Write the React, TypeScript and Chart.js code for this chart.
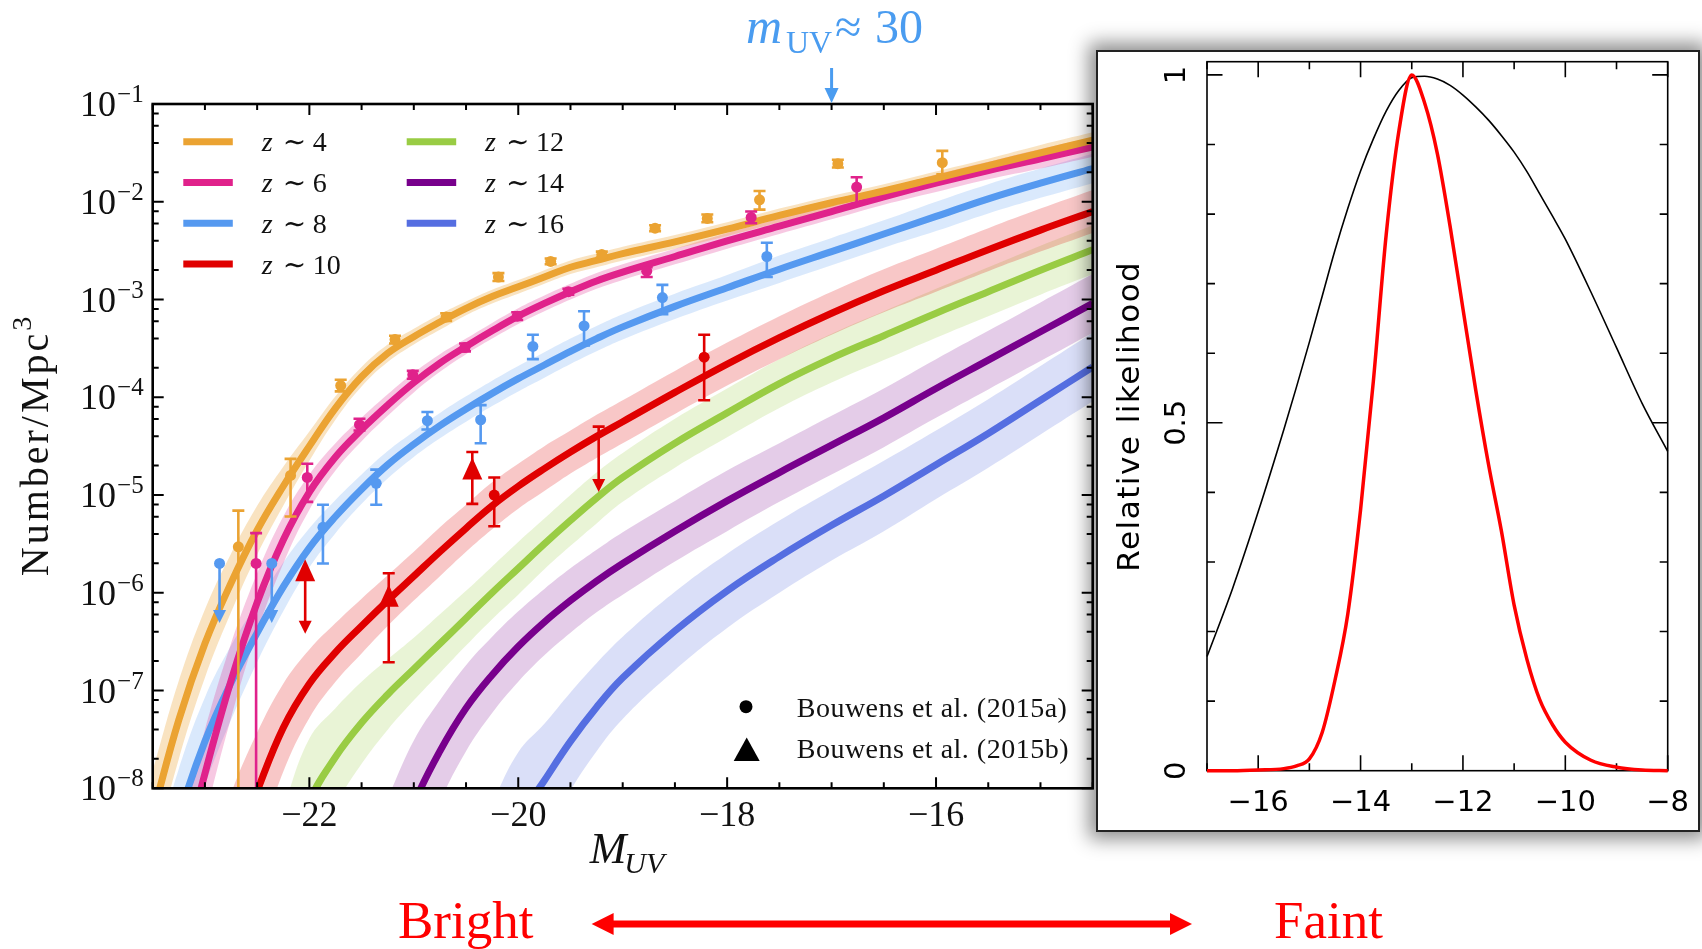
import React, { useEffect, useRef } from 'react';
import { Chart, registerables } from 'chart.js';

Chart.register(...registerables);

/* ===================== LEFT PANEL: UV luminosity functions ===================== */

const magGrid = [-23.5, -23.25, -23, -22.75, -22.5, -22.25, -22, -21.75, -21.5, -21.25, -21, -20.75, -20.5, -20.25, -20, -19.75, -19.5, -19.25, -19, -18.5, -18, -17.5, -17, -16.5, -16, -15.5, -15, -14.5];

// model curves: log10(Number / Mpc^3) at each grid point (null = not drawn)
const lfZ4 = [-8.27, -7.3, -6.52, -5.9, -5.36, -4.91, -4.5, -4.11, -3.79, -3.55, -3.38, -3.23, -3.09, -2.97, -2.87, -2.77, -2.67, -2.6, -2.53, -2.41, -2.28, -2.14, -2.01, -1.89, -1.76, -1.63, -1.5, -1.37];
const lfZ6 = [-10.0, -8.9, -7.85, -6.9, -6.1, -5.46, -4.97, -4.61, -4.33, -4.08, -3.85, -3.65, -3.48, -3.32, -3.17, -3.04, -2.92, -2.81, -2.72, -2.56, -2.4, -2.25, -2.1, -1.95, -1.81, -1.68, -1.56, -1.44];
const lfZ8 = [-9.3, -8.3, -7.52, -6.92, -6.41, -5.94, -5.54, -5.22, -4.94, -4.69, -4.48, -4.29, -4.12, -3.96, -3.81, -3.67, -3.53, -3.4, -3.28, -3.07, -2.88, -2.69, -2.51, -2.33, -2.15, -1.97, -1.81, -1.66];
const lfZ10 = [null, null, -9.6, -8.75, -8.03, -7.38, -6.93, -6.61, -6.34, -6.08, -5.83, -5.58, -5.34, -5.11, -4.91, -4.73, -4.56, -4.4, -4.25, -3.95, -3.66, -3.39, -3.14, -2.91, -2.7, -2.49, -2.29, -2.1];
const lfZ12 = [null, null, null, null, null, -9.0, -8.14, -7.68, -7.33, -7.04, -6.78, -6.52, -6.26, -6.0, -5.75, -5.5, -5.26, -5.03, -4.82, -4.47, -4.16, -3.86, -3.6, -3.37, -3.14, -2.92, -2.7, -2.49];
const lfZ14 = [null, null, null, null, null, null, null, null, null, -8.9, -8.16, -7.62, -7.18, -6.84, -6.55, -6.3, -6.08, -5.88, -5.7, -5.37, -5.06, -4.77, -4.49, -4.21, -3.91, -3.62, -3.33, -3.04];
const lfZ16 = [null, null, null, null, null, null, null, null, null, null, null, null, null, -9.0, -8.33, -7.92, -7.52, -7.17, -6.87, -6.39, -5.98, -5.63, -5.31, -5.01, -4.69, -4.37, -4.03, -3.69];

// half-width of the shaded uncertainty band (dex) at each grid point
const bandZ4 = [0.45, 0.4, 0.35, 0.3, 0.25, 0.2, 0.15, 0.12, 0.1, 0.09, 0.08, 0.08, 0.07, 0.07, 0.07, 0.07, 0.07, 0.07, 0.07, 0.07, 0.07, 0.07, 0.07, 0.07, 0.07, 0.07, 0.08, 0.08];
const bandZ6 = [0.55, 0.5, 0.45, 0.38, 0.3, 0.24, 0.18, 0.14, 0.12, 0.11, 0.1, 0.09, 0.08, 0.08, 0.08, 0.08, 0.08, 0.08, 0.08, 0.08, 0.08, 0.08, 0.08, 0.08, 0.09, 0.09, 0.1, 0.1];
const bandZ8 = [0.55, 0.5, 0.45, 0.38, 0.3, 0.25, 0.2, 0.17, 0.15, 0.14, 0.13, 0.13, 0.13, 0.13, 0.13, 0.13, 0.13, 0.13, 0.13, 0.13, 0.13, 0.14, 0.14, 0.14, 0.15, 0.15, 0.15, 0.15];
const bandZ10 = [null, null, 0.8, 0.7, 0.6, 0.45, 0.35, 0.3, 0.28, 0.26, 0.25, 0.25, 0.24, 0.24, 0.23, 0.23, 0.22, 0.22, 0.22, 0.22, 0.22, 0.22, 0.22, 0.22, 0.22, 0.22, 0.22, 0.22];
const bandZ12 = [null, null, null, null, null, 0.8, 0.65, 0.5, 0.42, 0.36, 0.32, 0.3, 0.28, 0.27, 0.27, 0.26, 0.26, 0.26, 0.25, 0.25, 0.25, 0.25, 0.25, 0.25, 0.25, 0.25, 0.25, 0.25];
const bandZ14 = [null, null, null, null, null, null, null, null, null, 0.8, 0.65, 0.52, 0.44, 0.39, 0.36, 0.34, 0.33, 0.32, 0.32, 0.31, 0.31, 0.3, 0.3, 0.3, 0.3, 0.3, 0.3, 0.3];
const bandZ16 = [null, null, null, null, null, null, null, null, null, null, null, null, null, 0.85, 0.7, 0.58, 0.5, 0.45, 0.42, 0.4, 0.38, 0.37, 0.36, 0.36, 0.35, 0.35, 0.35, 0.35];

// Bouwens et al. (2015a) points: [M_UV, log10 phi, +err, -err]  (err 4 = runs off the plot)
const obsZ4 = [
  [-22.68, -5.53, 0.37, 4], [-22.18, -4.8, 0.17, 0.42], [-21.7, -3.88, 0.06, 0.06], [-21.18, -3.41, 0.04, 0.04],
  [-20.69, -3.18, 0.04, 0.04], [-20.19, -2.77, 0.04, 0.04], [-19.69, -2.61, 0.03, 0.03], [-19.2, -2.54, 0.03, 0.03],
  [-18.69, -2.27, 0.03, 0.03], [-18.19, -2.17, 0.04, 0.04], [-17.69, -1.98, 0.09, 0.1], [-16.94, -1.61, 0.04, 0.04],
  [-15.94, -1.6, 0.12, 0.12],
];
const obsZ6 = [
  [-22.51, -5.7, 0.31, 4], [-22.02, -4.82, 0.14, 0.25], [-21.52, -4.28, 0.06, 0.06], [-21.01, -3.77, 0.04, 0.04],
  [-20.51, -3.49, 0.04, 0.04], [-20.01, -3.17, 0.04, 0.04], [-19.52, -2.92, 0.03, 0.03], [-18.77, -2.71, 0.04, 0.06],
  [-17.77, -2.16, 0.06, 0.06], [-16.76, -1.85, 0.1, 0.17],
];
const obsZ8 = [
  [-21.87, -5.33, 0.23, 0.37], [-21.36, -4.88, 0.14, 0.22], [-20.87, -4.24, 0.09, 0.09], [-20.36, -4.23, 0.15, 0.24],
  [-19.86, -3.48, 0.12, 0.13], [-19.37, -3.27, 0.15, 0.2], [-18.62, -2.98, 0.13, 0.17], [-17.62, -2.56, 0.14, 0.21],
];
const obsZ10 = [[-20.23, -5.0, 0.18, 0.32], [-18.22, -3.59, 0.23, 0.44]];
// upper limits: [M_UV, log10 phi, arrow tip]
const limZ8 = [[-22.86, -5.7, -6.31], [-22.36, -5.7, -6.31]];
const limZ10 = [[-19.23, -4.3, -4.97]];
// Bouwens et al. (2015b) triangles
const triZ10 = [[-21.24, -6.06, 0.26, 0.65], [-20.44, -4.76, 0.2, 0.33]];
const triLimZ10 = [[-22.04, -5.8, -6.42]];

const lfTicksX = [-22, -20, -18, -16];
const lfDecades = [-8, -7, -6, -5, -4, -3, -2, -1];
const legendZ = ['4', '6', '8', '10', '12', '14', '16'];
const refLabels = ['Bouwens et al. (2015a)', 'Bouwens et al. (2015b)'];

const colZ4 = '#eba332';
const colZ6 = '#e0228b';
const colZ8 = '#5599f0';
const colZ10 = '#e00000';
const colZ12 = '#99cc44';
const colZ14 = '#78008c';
const colZ16 = '#556ee1';

/* ===================== RIGHT PANEL: relative likelihood ===================== */
const likeMag = [-17, -16.5, -16, -15.5, -15.25, -15, -14.75, -14.5, -14.25, -14, -13.75, -13.5, -13.25, -13, -12.75, -12.5, -12.25, -12, -11.75, -11.5, -11.25, -11, -10.75, -10.5, -10.25, -10, -9.5, -9, -8.5, -8];
const likeBroad = [0.164, 0.262, 0.372, 0.49, 0.552, 0.616, 0.682, 0.748, 0.808, 0.862, 0.908, 0.948, 0.978, 0.996, 0.998, 0.994, 0.985, 0.971, 0.954, 0.935, 0.913, 0.889, 0.861, 0.829, 0.797, 0.764, 0.688, 0.608, 0.528, 0.459];
const likeNarrow = [0, 0, 0.001, 0.003, 0.007, 0.017, 0.055, 0.13, 0.225, 0.375, 0.56, 0.77, 0.92, 1.0, 0.96, 0.887, 0.782, 0.664, 0.547, 0.44, 0.345, 0.238, 0.16, 0.102, 0.066, 0.041, 0.015, 0.005, 0.001, 0];
const likeTicksX = [-17, -16, -15, -14, -13, -12, -11, -10, -9, -8];
const likeLabelsX = [-16, -14, -12, -10, -8];
const likeTicksY = [0, 0.1, 0.2, 0.3, 0.4, 0.5, 0.6, 0.7, 0.8, 0.9, 1];
const likeLabelsY = [0, 0.5, 1];

const SERIF = "'Liberation Serif', 'DejaVu Serif', serif";
const SANS = "'DejaVu Sans', 'Liberation Sans', sans-serif";

function rgba(hex: string, a: number) {
  const n = parseInt(hex.slice(1), 16);
  return `rgba(${(n >> 16) & 255},${(n >> 8) & 255},${n & 255},${a})`;
}
const minus = (v: number) => (v < 0 ? '\u2212' + Math.abs(v) : String(v));

const lfSeries = [
  { z: legendZ[0], color: colZ4, lf: lfZ4, band: bandZ4, alpha: 0.3 },
  { z: legendZ[1], color: colZ6, lf: lfZ6, band: bandZ6, alpha: 0.25 },
  { z: legendZ[2], color: colZ8, lf: lfZ8, band: bandZ8, alpha: 0.22 },
  { z: legendZ[3], color: colZ10, lf: lfZ10, band: bandZ10, alpha: 0.22 },
  { z: legendZ[4], color: colZ12, lf: lfZ12, band: bandZ12, alpha: 0.22 },
  { z: legendZ[5], color: colZ14, lf: lfZ14, band: bandZ14, alpha: 0.2 },
  { z: legendZ[6], color: colZ16, lf: lfZ16, band: bandZ16, alpha: 0.22 },
];

function curve(vals: (number | null)[], band: (number | null)[] | null, sign: number) {
  const out: { x: number; y: number }[] = [];
  magGrid.forEach((m, i) => {
    const v = vals[i];
    if (v == null) return;
    const off = band ? (band[i] ?? 0) * sign : 0;
    out.push({ x: m, y: Math.pow(10, v + off) });
  });
  return out;
}

const leftPlugin = {
  id: 'lfDecor',
  afterDatasetsDraw(chart: any) {
    const ctx: CanvasRenderingContext2D = chart.ctx;
    const a = chart.chartArea;
    const xs = chart.scales.x;
    const ys = chart.scales.y;
    const X = (m: number) => xs.getPixelForValue(m);
    const Y = (lg: number) => ys.getPixelForValue(Math.pow(10, lg));

    // ---------- observations ----------
    ctx.save();
    ctx.beginPath();
    ctx.rect(a.left, a.top, a.right - a.left, a.bottom - a.top);
    ctx.clip();
    ctx.lineWidth = 2.6;
    ctx.lineCap = 'butt';
    const errBar = (x: number, y1: number, y2: number, c: string) => {
      ctx.strokeStyle = c;
      ctx.beginPath();
      ctx.moveTo(x, y1); ctx.lineTo(x, y2);
      ctx.moveTo(x - 6, y1); ctx.lineTo(x + 6, y1);
      ctx.moveTo(x - 6, y2); ctx.lineTo(x + 6, y2);
      ctx.stroke();
    };
    const dot = (x: number, y: number, c: string) => {
      ctx.fillStyle = c;
      ctx.beginPath(); ctx.arc(x, y, 5.5, 0, Math.PI * 2); ctx.fill();
    };
    const tri = (x: number, y: number, c: string) => {
      ctx.fillStyle = c;
      ctx.beginPath();
      ctx.moveTo(x, y - 14); ctx.lineTo(x + 10, y + 8); ctx.lineTo(x - 10, y + 8);
      ctx.closePath(); ctx.fill();
    };
    const arrow = (x: number, y1: number, tip: number, c: string) => {
      ctx.strokeStyle = c; ctx.fillStyle = c;
      ctx.beginPath(); ctx.moveTo(x, y1); ctx.lineTo(x, tip - 10); ctx.stroke();
      ctx.beginPath();
      ctx.moveTo(x, tip); ctx.lineTo(x - 6.5, tip - 13); ctx.lineTo(x + 6.5, tip - 13);
      ctx.closePath(); ctx.fill();
    };
    const obsSets: [number[][], string][] = [[obsZ4, colZ4], [obsZ6, colZ6], [obsZ8, colZ8], [obsZ10, colZ10]];
    obsSets.forEach(([pts, c]) => {
      pts.forEach(([m, lg, up, dn]) => {
        errBar(X(m), Y(lg + up), Y(lg - dn), c);
        dot(X(m), Y(lg), c);
      });
    });
    limZ8.forEach(([m, lg, to]) => { arrow(X(m), Y(lg), Y(to), colZ8); dot(X(m), Y(lg), colZ8); });
    limZ10.forEach(([m, lg, to]) => {
      arrow(X(m), Y(lg), Y(to), colZ10);
      ctx.strokeStyle = colZ10;
      ctx.beginPath(); ctx.moveTo(X(m) - 6, Y(lg)); ctx.lineTo(X(m) + 6, Y(lg)); ctx.stroke();
    });
    triZ10.forEach(([m, lg, up, dn]) => { errBar(X(m), Y(lg + up), Y(lg - dn), colZ10); tri(X(m), Y(lg), colZ10); });
    triLimZ10.forEach(([m, lg, to]) => { arrow(X(m), Y(lg), Y(to), colZ10); tri(X(m), Y(lg), colZ10); });
    ctx.restore();

    // ---------- frame and ticks ----------
    ctx.save();
    ctx.strokeStyle = '#000';
    ctx.lineWidth = 2;
    ctx.beginPath();
    for (let m = -23.5; m <= -14.5 + 1e-6; m += 0.5) {
      const len = Math.abs(m % 2) < 1e-6 ? 11 : 6;
      const x = X(m);
      ctx.moveTo(x, a.bottom); ctx.lineTo(x, a.bottom - len);
      ctx.moveTo(x, a.top); ctx.lineTo(x, a.top + len);
    }
    lfDecades.forEach((e) => {
      [1, 2, 4, 6, 8].forEach((k) => {
        const lg = e + Math.log10(k);
        if (lg > -1 + 1e-9) return;
        const y = Y(lg);
        const len = k === 1 ? 11 : 6;
        ctx.moveTo(a.left, y); ctx.lineTo(a.left + len, y);
        ctx.moveTo(a.right, y); ctx.lineTo(a.right - len, y);
      });
    });
    ctx.stroke();
    ctx.lineWidth = 2.6;
    ctx.strokeRect(a.left, a.top, a.right - a.left, a.bottom - a.top);

    // tick labels
    ctx.fillStyle = '#111';
    ctx.textBaseline = 'alphabetic';
    ctx.font = `36px ${SERIF}`;
    ctx.textAlign = 'center';
    lfTicksX.forEach((m) => ctx.fillText(minus(m), X(m), a.bottom + 38));
    lfDecades.forEach((e) => {
      const y = Y(e);
      ctx.font = `25px ${SERIF}`;
      const sup = minus(e);
      const ws = ctx.measureText(sup).width;
      ctx.textAlign = 'left';
      const right = a.left - 9;
      ctx.fillText(sup, right - ws, y - 2);
      ctx.font = `36px ${SERIF}`;
      const w10 = ctx.measureText('10').width;
      ctx.fillText('10', right - ws - w10 - 1, y + 12);
    });

    // axis titles
    ctx.font = `italic 44px ${SERIF}`;
    ctx.textAlign = 'left';
    const wM = ctx.measureText('M').width;
    ctx.font = `italic 30px ${SERIF}`;
    const wUV = ctx.measureText('UV').width;
    const startM = 627 - (wM + wUV - 2) / 2;
    ctx.font = `italic 44px ${SERIF}`;
    ctx.fillText('M', startM, 863);
    ctx.font = `italic 30px ${SERIF}`;
    ctx.fillText('UV', startM + wM - 2, 873);

    ctx.save();
    ctx.translate(48, 445);
    ctx.rotate(-Math.PI / 2);
    ctx.font = `40px ${SERIF}`;
    (ctx as any).letterSpacing = '3px';
    const wN = ctx.measureText('Number/Mpc').width;
    ctx.font = `28px ${SERIF}`;
    const w3 = ctx.measureText('3').width;
    const s0 = -(wN + w3) / 2;
    ctx.font = `40px ${SERIF}`;
    ctx.fillText('Number/Mpc', s0, 0);
    ctx.font = `28px ${SERIF}`;
    ctx.fillText('3', s0 + wN, -17);
    ctx.restore();

    // ---------- legend (model curves) ----------
    lfSeries.forEach((s, i) => {
      const col = i < 4 ? 0 : 1;
      const row = i < 4 ? i : i - 4;
      const y = 141.7 + row * 40.8;
      const lx = col === 0 ? 183.3 : 406.7;
      const tx = col === 0 ? 261.7 : 485;
      ctx.strokeStyle = s.color;
      ctx.lineWidth = 7;
      ctx.beginPath(); ctx.moveTo(lx, y); ctx.lineTo(lx + 49.5, y); ctx.stroke();
      ctx.fillStyle = '#111';
      ctx.textAlign = 'left';
      ctx.font = `italic 28px ${SERIF}`;
      ctx.fillText('z', tx, y + 9.5);
      ctx.font = `28px ${SERIF}`;
      ctx.fillText('\u223C', tx + 21, y + 9.5);
      ctx.fillText(s.z, tx + 51, y + 9.5);
    });

    // ---------- legend (data sources) ----------
    ctx.fillStyle = '#000';
    ctx.beginPath(); ctx.arc(746, 706.7, 6.5, 0, Math.PI * 2); ctx.fill();
    ctx.beginPath(); ctx.moveTo(746.7, 737.5); ctx.lineTo(759.7, 761); ctx.lineTo(733.7, 761); ctx.closePath(); ctx.fill();
    ctx.fillStyle = '#111';
    ctx.font = `28px ${SERIF}`;
    (ctx as any).letterSpacing = '0.5px';
    ctx.fillText(refLabels[0], 796.7, 716.7);
    ctx.fillText(refLabels[1], 796.7, 758.3);
    (ctx as any).letterSpacing = '0px';

    // ---------- m_UV ~ 30 marker arrow at M_UV = -17 ----------
    const ax = X(-17);
    const blue = '#4a9cf0';
    ctx.strokeStyle = blue; ctx.fillStyle = blue; ctx.lineWidth = 3;
    ctx.beginPath(); ctx.moveTo(ax, 68); ctx.lineTo(ax, a.top - 14); ctx.stroke();
    ctx.beginPath(); ctx.moveTo(ax, a.top - 1); ctx.lineTo(ax - 7, a.top - 16); ctx.lineTo(ax + 7, a.top - 16); ctx.closePath(); ctx.fill();

    // ---------- Bright <-> Faint double arrow ----------
    const red = '#ff0000';
    ctx.strokeStyle = red; ctx.fillStyle = red; ctx.lineWidth = 7;
    const yA = 924, xA = 591.6, xB = 1192;
    ctx.beginPath(); ctx.moveTo(xA + 18, yA); ctx.lineTo(xB - 18, yA); ctx.stroke();
    ctx.beginPath(); ctx.moveTo(xA, yA); ctx.lineTo(xA + 22, yA - 11); ctx.lineTo(xA + 22, yA + 11); ctx.closePath(); ctx.fill();
    ctx.beginPath(); ctx.moveTo(xB, yA); ctx.lineTo(xB - 22, yA - 11); ctx.lineTo(xB - 22, yA + 11); ctx.closePath(); ctx.fill();
    ctx.restore();
  },
};

const rightPlugin = {
  id: 'likeDecor',
  beforeDatasetsDraw(chart: any) {
    const ctx: CanvasRenderingContext2D = chart.ctx;
    const a = chart.chartArea;
    const xs = chart.scales.x;
    const ys = chart.scales.y;
    ctx.save();
    ctx.strokeStyle = '#000';
    ctx.lineWidth = 1.6;
    ctx.strokeRect(a.left, a.top, a.right - a.left, a.bottom - a.top);
    ctx.beginPath();
    likeTicksX.forEach((v) => {
      const x = xs.getPixelForValue(v);
      const len = v % 2 === 0 ? 15.5 : 7.5;
      ctx.moveTo(x, a.bottom); ctx.lineTo(x, a.bottom - len);
      ctx.moveTo(x, a.top); ctx.lineTo(x, a.top + len);
    });
    likeTicksY.forEach((v) => {
      const y = ys.getPixelForValue(v);
      const len = v === 0 || v === 0.5 || v === 1 ? 15.5 : 8;
      ctx.moveTo(a.left, y); ctx.lineTo(a.left + len, y);
      ctx.moveTo(a.right, y); ctx.lineTo(a.right - len, y);
    });
    ctx.stroke();

    ctx.fillStyle = '#000';
    ctx.font = `29px ${SANS}`;
    ctx.textAlign = 'center';
    ctx.textBaseline = 'alphabetic';
    likeLabelsX.forEach((v) => ctx.fillText(minus(v), xs.getPixelForValue(v), a.bottom + 40));
    likeLabelsY.forEach((v) => {
      ctx.save();
      ctx.translate(a.left - 22.5, ys.getPixelForValue(v));
      ctx.rotate(-Math.PI / 2);
      ctx.fillText(String(v), 0, 0);
      ctx.restore();
    });
    ctx.save();
    ctx.translate(a.left - 68, (a.top + a.bottom) / 2);
    ctx.rotate(-Math.PI / 2);
    ctx.font = `31px ${SANS}`;
    (ctx as any).letterSpacing = '1.5px';
    ctx.fillText('Relative likelihood', 0, 0);
    ctx.restore();
    ctx.restore();
  },
};

export default function App() {
  const leftRef = useRef<HTMLCanvasElement>(null);
  const rightRef = useRef<HTMLCanvasElement>(null);

  useEffect(() => {
    const datasets: any[] = [];
    lfSeries.forEach((s) => {
      datasets.push({
        data: curve(s.lf, null, 0),
        borderColor: s.color,
        borderWidth: 7,
        fill: false,
        order: 1,
        clip: 0,
      });
    });
    lfSeries.forEach((s) => {
      datasets.push({
        data: curve(s.lf, s.band, 1),
        borderColor: 'rgba(0,0,0,0)',
        borderWidth: 0,
        backgroundColor: rgba(s.color, s.alpha),
        fill: '+1',
        order: 2,
        clip: 0,
      });
      datasets.push({
        data: curve(s.lf, s.band, -1),
        borderColor: 'rgba(0,0,0,0)',
        borderWidth: 0,
        fill: false,
        order: 2,
        clip: 0,
      });
    });

    const left = new Chart(leftRef.current as HTMLCanvasElement, {
      type: 'line',
      data: { datasets },
      options: {
        responsive: false,
        animation: false,
        events: [],
        layout: { padding: { left: 152.7, top: 104, right: 1702 - 1092.7, bottom: 949 - 788.3 } },
        elements: {
          point: { radius: 0 },
          line: { tension: 0.4, capBezierPoints: false, borderJoinStyle: 'round' },
        },
        scales: {
          x: { type: 'linear', min: -23.5, max: -14.5, display: false },
          y: { type: 'logarithmic', min: 1e-8, max: 1e-1, display: false },
        },
        plugins: { legend: { display: false }, tooltip: { enabled: false } },
      } as any,
      plugins: [leftPlugin],
    });

    const right = new Chart(rightRef.current as HTMLCanvasElement, {
      type: 'line',
      data: {
        datasets: [
          {
            data: likeMag.map((m, i) => ({ x: m, y: likeNarrow[i] })),
            borderColor: '#ff0000',
            borderWidth: 3.5,
            fill: false,
            order: 1,
            clip: false,
          },
          {
            data: likeMag.map((m, i) => ({ x: m, y: likeBroad[i] })),
            borderColor: '#000000',
            borderWidth: 1.6,
            fill: false,
            order: 2,
            clip: false,
          },
        ],
      },
      options: {
        responsive: false,
        animation: false,
        events: [],
        layout: { padding: { left: 109, top: 9.7, right: 30.3, bottom: 59.3 } },
        elements: {
          point: { radius: 0 },
          line: { cubicInterpolationMode: 'monotone', capBezierPoints: false },
        },
        scales: {
          x: { type: 'linear', min: -17, max: -8, display: false },
          y: { type: 'linear', min: 0, max: 1.019, display: false },
        },
        plugins: { legend: { display: false }, tooltip: { enabled: false } },
      } as any,
      plugins: [rightPlugin],
    });

    return () => {
      left.destroy();
      right.destroy();
    };
  }, []);

  const blue = '#4a9cf0';
  const txt = (extra: React.CSSProperties): React.CSSProperties => ({
    position: 'absolute',
    fontFamily: SERIF,
    whiteSpace: 'nowrap',
    margin: 0,
    padding: 0,
    ...extra,
  });

  return (
    <div style={{ position: 'absolute', left: 0, top: 0, width: 1702, height: 949, overflow: 'hidden', background: '#ffffff' }}>
      <canvas ref={leftRef} width={1702} height={949} style={{ position: 'absolute', left: 0, top: 0, width: 1702, height: 949 }} />
      <span style={txt({ left: 746, top: 1, fontSize: 50, lineHeight: '50px', fontStyle: 'italic', color: blue })}>m</span>
      <span style={txt({ left: 786, top: 26, fontSize: 32, lineHeight: '32px', color: blue })}>UV</span>
      <span style={txt({ left: 835, top: 3, fontSize: 48, lineHeight: '48px', color: blue })}>≈</span>
      <span style={txt({ left: 875, top: 3, fontSize: 48, lineHeight: '48px', color: blue })}>30</span>
      <span style={txt({ left: 398, top: 894, fontSize: 53, lineHeight: '53px', color: '#ff0000' })}>Bright</span>
      <span style={txt({ left: 1274, top: 894, fontSize: 53, lineHeight: '53px', color: '#ff0000' })}>Faint</span>
      <div
        style={{
          position: 'absolute',
          left: 1096,
          top: 50,
          width: 604,
          height: 782,
          boxSizing: 'border-box',
          border: '2px solid #222',
          background: '#ffffff',
          boxShadow: '0 0 18px 7px rgba(0,0,0,0.45)',
        }}
      >
        <canvas ref={rightRef} width={600} height={778} style={{ position: 'absolute', left: 0, top: 0, width: 600, height: 778 }} />
      </div>
    </div>
  );
}
